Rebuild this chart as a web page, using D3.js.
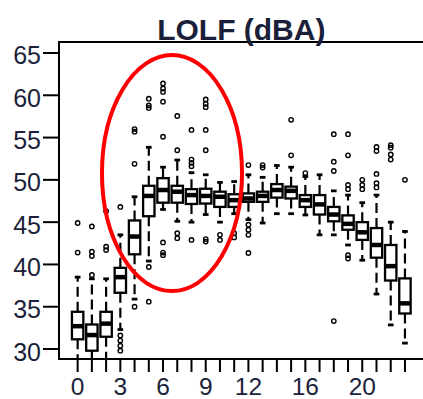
<!DOCTYPE html>
<html>
<head>
<meta charset="utf-8">
<script src="https://cdn.jsdelivr.net/npm/d3@7"></script>
<style>
  body { margin: 0; background: #fff; }
  svg { display: block; }
</style>
</head>
<body>
<script>
// hourly box plot values (dBA)
const hours = [0, 1, 2, 3, 4, 5, 6, 7, 8, 9, 10, 11, 12, 13, 14, 15, 16, 17, 18, 19, 20, 21, 22, 23];
const lowWhisker  = [28.5, 28.5, 28.5, 32.3, 35.9, 40.4, 46.5, 45.1, 45.0, 45.9, 45.0, 46.0, 45.3, 44.9, 46.0, 46.0, 45.85, 43.5, 43.5, 42.3, 40.5, 36.5, 32.85, 30.7];
const q1          = [31.15, 29.8, 31.45, 36.65, 41.2, 45.7, 47.3, 47.3, 47.15, 47.2, 46.8, 46.8, 47.4, 47.4, 47.9, 47.8, 46.8, 45.9, 45.1, 44.1, 42.9, 40.8, 38.1, 34.2];
const median      = [32.7, 31.65, 33.0, 38.5, 43.3, 48.1, 48.8, 48.6, 48.2, 48.1, 48.0, 47.6, 47.8, 48.1, 48.8, 48.7, 47.6, 47.1, 45.9, 44.8, 43.8, 42.3, 39.8, 35.4];
const q3          = [34.4, 32.9, 34.4, 39.6, 45.2, 49.3, 50.2, 49.3, 48.9, 48.95, 48.6, 48.3, 48.4, 48.6, 49.5, 49.2, 48.2, 48.2, 46.8, 45.8, 45.0, 44.3, 42.3, 38.35];
const highWhisker = [38.5, 38.3, 38.3, 43.5, 48.0, 53.85, 51.5, 52.35, 50.85, 50.6, 49.7, 49.8, 50.6, 50.3, 51.7, 51.5, 50.4, 50.6, 48.7, 48.2, 47.3, 48.2, 45.0, 43.9];
const outliers = [
    [44.9, 41.4],
    [38.75, 44.5, 41.5, 41.0],
    [46.3, 42.1, 41.7],
    [46.8, 31.6, 31.0, 30.4, 29.8],
    [35.0, 51.9, 56.0, 55.7],
    [39.7, 35.6, 59.6, 58.8, 58.5],
    [42.6, 41.4, 41.1, 55.1, 59.25, 60.4, 60.8, 61.4],
    [43.7, 43.1, 53.5, 57.55],
    [42.9, 51.6, 52.0, 52.4, 55.9],
    [43.0, 42.7, 53.5, 55.9, 58.6, 59.0, 59.5],
    [43.5, 42.9],
    [43.7, 43.2],
    [51.75, 44.7, 44.1, 43.5, 41.35],
    [51.75, 51.45],
    [],
    [52.9, 57.1],
    [50.8],
    [],
    [51.05, 52.15, 55.4, 33.3],
    [48.9, 49.4, 52.9, 55.4, 41.1, 40.7],
    [48.9, 49.4, 50.0],
    [49.1, 49.6, 50.7, 53.4, 53.9],
    [52.4, 53.0, 53.8, 54.1],
    [50.0]
];

const xTickLabels = [0, 3, 6, 9, 12, 16, 20];
const yTicks = [30, 35, 40, 45, 50, 55, 60, 65];
const title = "LOLF (dBA)";

// red ring drawn on the chart: centre (hour, dBA) and radii
const ringCenter = [6.63, 50.8];
const ringRadius = [4.92, 13.95];

let width = 423, height = 399;
let plotLeft = 59, plotRight = 423.6, plotTop = 42, plotBottom = 359;
let font = "'Liberation Sans', Arial, sans-serif";
let labelColor = "#1c1f3a";

let svg = d3.select("body").append("svg")
    .attr("width", width)
    .attr("height", height);

let x = d3.scaleLinear().domain([-1.31, 24.31]).range([plotLeft, plotRight]);
let y = d3.scaleLinear().domain([28.82, 66.3]).range([plotBottom, plotTop]);

let step = x(1) - x(0);
let boxW = step * 0.8;
let capW = boxW * 0.5;

svg.append("clipPath").attr("id", "plot")
    .append("rect")
    .attr("x", plotLeft).attr("y", plotTop)
    .attr("width", width - plotLeft).attr("height", plotBottom - plotTop);

let plot = svg.append("g").attr("clip-path", "url(#plot)");

let rows = hours.map((h, i) => ({
    hour: h, lo: lowWhisker[i], q1: q1[i], med: median[i], q3: q3[i], hi: highWhisker[i], out: outliers[i]
}));

let g = plot.selectAll("g.box").data(rows).enter().append("g").attr("class", "box");

// whiskers (dashed), drawn from the box outwards
g.append("line")
    .attr("x1", d => x(d.hour)).attr("x2", d => x(d.hour))
    .attr("y1", d => y(d.q3)).attr("y2", d => y(d.hi))
    .attr("stroke", "#000").attr("stroke-width", 2.2).attr("stroke-dasharray", "10,5");
g.append("line")
    .attr("x1", d => x(d.hour)).attr("x2", d => x(d.hour))
    .attr("y1", d => y(d.q1)).attr("y2", d => y(d.lo))
    .attr("stroke", "#000").attr("stroke-width", 2.2).attr("stroke-dasharray", "10,5");

// whisker caps
g.append("line")
    .attr("x1", d => x(d.hour) - capW / 2).attr("x2", d => x(d.hour) + capW / 2)
    .attr("y1", d => y(d.hi)).attr("y2", d => y(d.hi))
    .attr("stroke", "#000").attr("stroke-width", 2.8);
g.append("line")
    .attr("x1", d => x(d.hour) - capW / 2).attr("x2", d => x(d.hour) + capW / 2)
    .attr("y1", d => y(d.lo)).attr("y2", d => y(d.lo))
    .attr("stroke", "#000").attr("stroke-width", 2.8);

// boxes
g.append("rect")
    .attr("x", d => x(d.hour) - boxW / 2)
    .attr("y", d => y(d.q3))
    .attr("width", boxW)
    .attr("height", d => y(d.q1) - y(d.q3))
    .attr("fill", "#fff").attr("stroke", "#000").attr("stroke-width", 2.3);

// medians
g.append("line")
    .attr("x1", d => x(d.hour) - boxW / 2).attr("x2", d => x(d.hour) + boxW / 2)
    .attr("y1", d => y(d.med)).attr("y2", d => y(d.med))
    .attr("stroke", "#000").attr("stroke-width", 4.5);

// outliers
g.selectAll("circle")
    .data(d => d.out.map(v => ({ hour: d.hour, v: v })))
    .enter().append("circle")
    .attr("cx", d => x(d.hour))
    .attr("cy", d => y(d.v))
    .attr("r", 2.2)
    .attr("fill", "none").attr("stroke", "#000").attr("stroke-width", 1.4);

// frame (right side runs off the picture)
svg.append("path")
    .attr("d", `M${width + 5},${plotTop}H${plotLeft}V${plotBottom}H${width + 5}`)
    .attr("fill", "none").attr("stroke", "#000").attr("stroke-width", 2);

// y axis
let yAxis = svg.append("g");
yAxis.selectAll("line").data(yTicks).enter().append("line")
    .attr("x1", plotLeft - 16).attr("x2", plotLeft)
    .attr("y1", d => y(d)).attr("y2", d => y(d))
    .attr("stroke", "#000").attr("stroke-width", 2);
yAxis.selectAll("text").data(yTicks).enter().append("text")
    .attr("x", plotLeft - 18)
    .attr("y", d => y(d) + 11.5)
    .attr("text-anchor", "end")
    .attr("font-family", font).attr("font-size", 25)
    .attr("fill", labelColor)
    .text(d => d);

// x axis
let xAxis = svg.append("g");
xAxis.selectAll("line").data(hours).enter().append("line")
    .attr("x1", d => x(d)).attr("x2", d => x(d))
    .attr("y1", plotBottom).attr("y2", plotBottom + 13)
    .attr("stroke", "#000").attr("stroke-width", 2);
xAxis.selectAll("text").data(xTickLabels).enter().append("text")
    .attr("x", d => x(d))
    .attr("y", 394.5)
    .attr("text-anchor", "middle")
    .attr("font-family", font).attr("font-size", 24.5)
    .attr("fill", labelColor)
    .text(d => d);

// title
svg.append("text")
    .attr("x", (plotLeft + plotRight) / 2)
    .attr("y", 39.5)
    .attr("text-anchor", "middle")
    .attr("font-family", font).attr("font-size", 30).attr("font-weight", "bold")
    .attr("fill", labelColor)
    .text(title);

// red ring annotation
svg.append("ellipse")
    .attr("cx", x(ringCenter[0]))
    .attr("cy", y(ringCenter[1]))
    .attr("rx", x(ringCenter[0] + ringRadius[0]) - x(ringCenter[0]))
    .attr("ry", y(ringCenter[1] - ringRadius[1]) - y(ringCenter[1]))
    .attr("fill", "none").attr("stroke", "#ff0000").attr("stroke-width", 4);
</script>
</body>
</html>
